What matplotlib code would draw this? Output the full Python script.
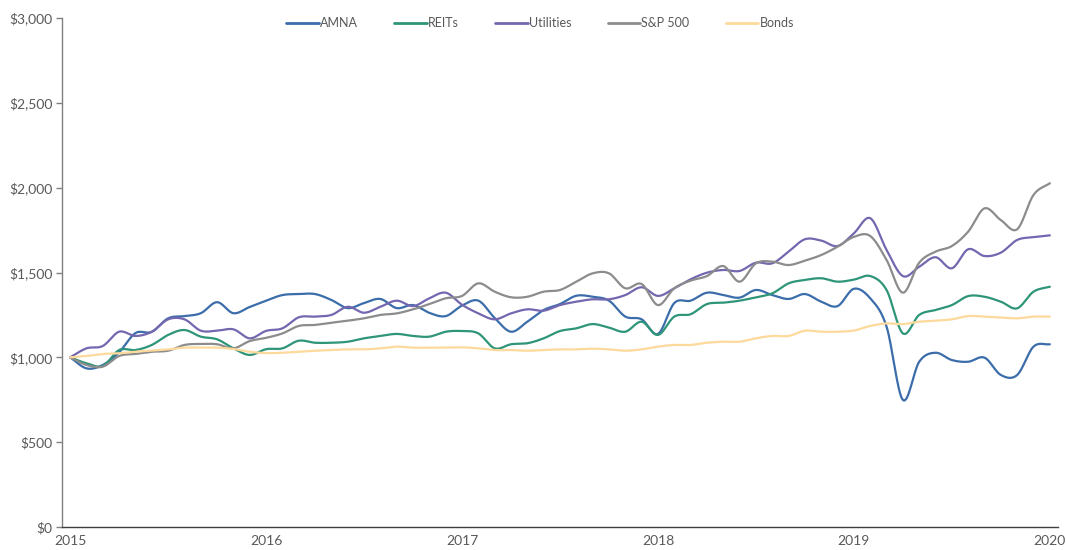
import numpy as np
import matplotlib
matplotlib.use("Agg")
import matplotlib.pyplot as plt
from matplotlib.ticker import FuncFormatter

years = ["2015", "2016", "2017", "2018", "2019", "2020"]

amna = [1000, 935, 955, 1030, 1143, 1150, 1230, 1243, 1260, 1325, 1260, 1297,
        1334, 1367, 1373, 1373, 1338, 1290, 1320, 1344, 1290, 1308, 1262, 1243,
        1305, 1334, 1232, 1151, 1210, 1279, 1314, 1363, 1357, 1334, 1240, 1224,
        1138, 1320, 1334, 1381, 1367, 1352, 1397, 1367, 1344, 1373, 1328, 1302,
        1404, 1348, 1181, 749, 974, 1027, 984, 974, 998, 896, 896, 1063, 1077]
reits = [1000, 965, 949, 1043, 1043, 1073, 1132, 1161, 1122, 1106, 1053, 1014,
         1048, 1053, 1098, 1086, 1086, 1092, 1112, 1126, 1138, 1126, 1122, 1151,
         1155, 1141, 1053, 1077, 1083, 1112, 1155, 1171, 1196, 1175, 1151, 1210,
         1132, 1240, 1254, 1314, 1322, 1334, 1354, 1377, 1436, 1456, 1466, 1446,
         1458, 1479, 1397, 1141, 1250, 1279, 1308, 1361, 1357, 1328, 1289, 1387, 1416]
utilities = [1000, 1053, 1067, 1151, 1126, 1151, 1224, 1224, 1157, 1157, 1165, 1112,
             1156, 1171, 1236, 1240, 1250, 1298, 1263, 1298, 1334, 1302, 1348, 1381,
             1310, 1259, 1224, 1259, 1283, 1275, 1308, 1328, 1342, 1342, 1367, 1413,
             1362, 1407, 1460, 1499, 1515, 1509, 1558, 1554, 1623, 1696, 1688, 1656,
             1731, 1820, 1633, 1479, 1534, 1590, 1525, 1637, 1597, 1617, 1692, 1708, 1719]
sp500 = [1000, 955, 945, 1008, 1020, 1033, 1039, 1073, 1079, 1077, 1053, 1096,
         1115, 1141, 1185, 1191, 1204, 1216, 1230, 1250, 1259, 1283, 1314, 1348,
         1362, 1436, 1387, 1354, 1357, 1387, 1397, 1446, 1495, 1495, 1407, 1432,
         1308, 1407, 1452, 1479, 1538, 1446, 1554, 1564, 1544, 1570, 1603, 1652,
         1710, 1715, 1574, 1381, 1558, 1623, 1656, 1741, 1878, 1809, 1755, 1957, 2026]
bonds = [1000, 1008, 1020, 1024, 1033, 1039, 1047, 1057, 1057, 1057, 1049, 1033,
         1025, 1027, 1033, 1039, 1043, 1047, 1047, 1053, 1063, 1057, 1057, 1057,
         1059, 1053, 1043, 1043, 1039, 1043, 1047, 1047, 1051, 1047, 1039, 1047,
         1063, 1073, 1073, 1086, 1092, 1092, 1112, 1126, 1126, 1157, 1151, 1151,
         1158, 1185, 1200, 1196, 1210, 1216, 1224, 1243, 1240, 1234, 1230, 1240, 1240]

names = ["AMNA", "REITs", "Utilities", "S&P 500", "Bonds"]
colors = ["#3B6DAA", "#2E9579", "#7467B0", "#8C8C8C", "#FDD99B"]
series = [amna, reits, utilities, sp500, bonds]


def smooth(y, n=16):
    """Catmull-Rom smoothing of the polyline through the points (Excel-style smoothed line)."""
    y = np.asarray(y, dtype=float)
    x = np.arange(len(y), dtype=float)
    px = np.concatenate([[2 * x[0] - x[1]], x, [2 * x[-1] - x[-2]]])
    py = np.concatenate([[2 * y[0] - y[1]], y, [2 * y[-1] - y[-2]]])
    xs, ys = [], []
    t = np.linspace(0, 1, n, endpoint=False)
    for i in range(1, len(px) - 2):
        p0x, p1x, p2x, p3x = px[i - 1:i + 3]
        p0y, p1y, p2y, p3y = py[i - 1:i + 3]
        t2, t3 = t * t, t * t * t
        bx = 0.5 * (2 * p1x + (-p0x + p2x) * t + (2 * p0x - 5 * p1x + 4 * p2x - p3x) * t2 + (-p0x + 3 * p1x - 3 * p2x + p3x) * t3)
        by = 0.5 * (2 * p1y + (-p0y + p2y) * t + (2 * p0y - 5 * p1y + 4 * p2y - p3y) * t2 + (-p0y + 3 * p1y - 3 * p2y + p3y) * t3)
        xs.append(bx)
        ys.append(by)
    xs.append([x[-1]])
    ys.append([y[-1]])
    return np.concatenate(xs), np.concatenate(ys)


plt.rcParams['font.family'] = ['Lato', 'DejaVu Sans']
fig = plt.figure(figsize=(10.66, 5.5), dpi=100)
ax = fig.add_axes([62 / 1066, 23 / 550, (1058 - 62) / 1066, (527 - 18) / 550])

for name, col, s in zip(names, colors, series):
    sx, sy = smooth(s)
    ax.plot(sx, sy, color=col, lw=1.6, label=name, solid_capstyle='round')

ax.set_xlim(-0.5, 60.5)
ax.set_ylim(0, 3000)
ax.set_yticks(np.arange(0, 3001, 500))
ax.yaxis.set_major_formatter(FuncFormatter(lambda v, p: "${:,.0f}".format(v)))
ax.set_xticks(np.arange(0, 61, 12))
ax.set_xticklabels(years)

for sp in ["top", "right"]:
    ax.spines[sp].set_visible(False)
ax.spines["left"].set_color("#808080")
ax.spines["left"].set_linewidth(1.0)
ax.spines["bottom"].set_color("#404040")
ax.spines["bottom"].set_linewidth(1.0)
ax.tick_params(axis="y", length=4, width=1, color="#808080", labelsize=10, labelcolor="#595959", pad=3)
ax.tick_params(axis="x", length=0, labelsize=10, labelcolor="#595959", pad=6)

leg = ax.legend(loc="upper center", bbox_to_anchor=(540 / 1066, 1 - 6 / 550), bbox_transform=fig.transFigure,
                ncol=5, frameon=False, handlelength=2.6, handletextpad=0.1, columnspacing=2.9,
                fontsize=9, labelcolor="#595959")
for h in leg.get_lines():
    h.set_linewidth(2.0)

fig.savefig("out.png", dpi=100)
